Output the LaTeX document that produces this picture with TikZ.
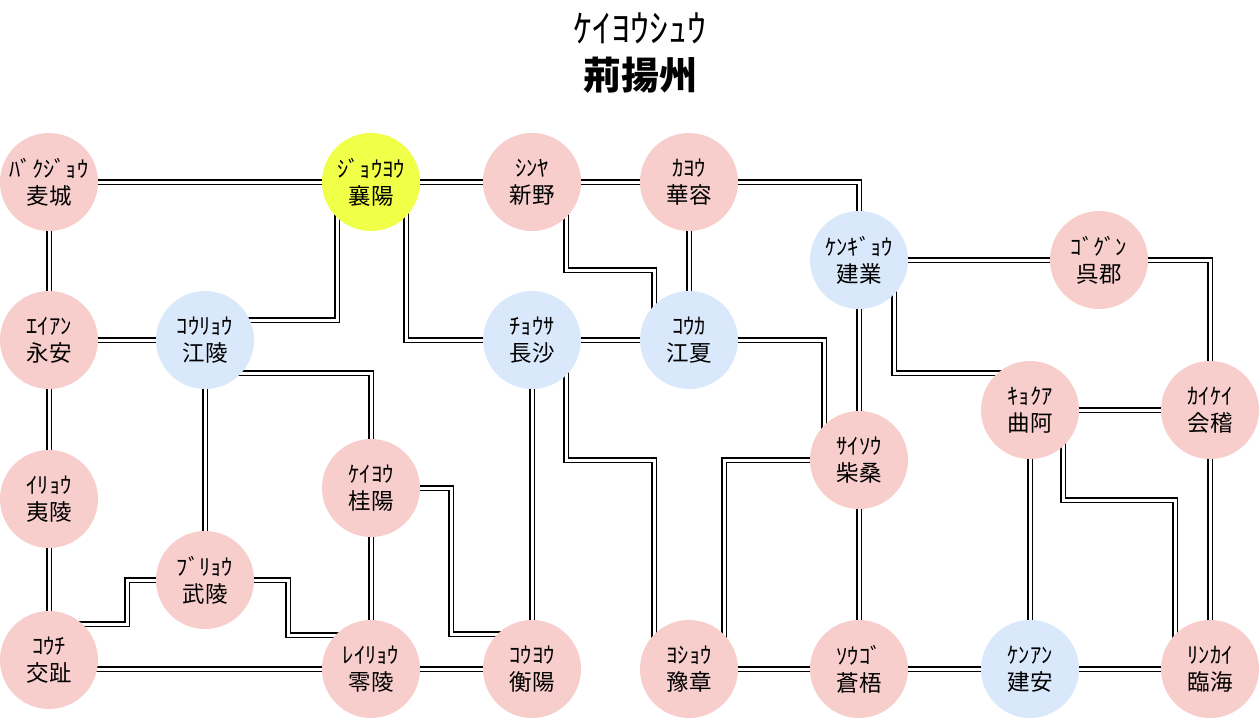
\documentclass[tikz,border=0pt]{standalone}
\usepackage{fontspec}
\setmainfont{Noto Sans CJK JP}
\usetikzlibrary{backgrounds}
\definecolor{pinkc}{HTML}{F8CECC}
\definecolor{bluec}{HTML}{DAE8FC}
\definecolor{yellowc}{HTML}{F0FF48}
\tikzset{
  city/.style={circle, minimum size=98pt, inner sep=0pt, draw=none, align=center,
    font=\fontsize{22.5}{27}\selectfont},
  pinkcity/.style={city, fill=pinkc},
  bluecity/.style={city, fill=bluec},
  yellowcity/.style={city, fill=yellowc},
  road/.style={draw=black, line width=1.1pt, double=white, double distance=3pt, line join=miter},
  titletext/.style={font=\fontsize{38}{42}\selectfont}
}
\begin{document}
\begin{tikzpicture}[x=1pt,y=-1pt]
\useasboundingbox (0,0) rectangle (1260,720);
\node[titletext] (t1) at (640,28) {ｹｲﾖｳｼｭｳ};
\node[titletext, font=\fontsize{38}{42}\selectfont\bfseries] (t2) at (640,75) {荊揚州};

\node[pinkcity] (maicheng) at (49,182) {ﾊﾞｸｼﾞｮｳ\\麦城};
\node[yellowcity] (xiangyang) at (371,182) {ｼﾞｮｳﾖｳ\\襄陽};
\node[pinkcity] (xinye) at (532,182) {ｼﾝﾔ\\新野};
\node[pinkcity] (huarong) at (689,182) {ｶﾖｳ\\華容};
\node[bluecity] (jianye) at (859,260) {ｹﾝｷﾞｮｳ\\建業};
\node[pinkcity] (wujun) at (1099,260) {ｺﾞｸﾞﾝ\\呉郡};
\node[pinkcity] (yongan) at (49,340) {ｴｲｱﾝ\\永安};
\node[bluecity] (jiangling) at (205,340) {ｺｳﾘｮｳ\\江陵};
\node[bluecity] (changsha) at (532,340) {ﾁｮｳｻ\\長沙};
\node[bluecity] (jiangxia) at (689,340) {ｺｳｶ\\江夏};
\node[pinkcity] (qua) at (1030,410) {ｷｮｸｱ\\曲阿};
\node[pinkcity] (kuaiji) at (1210,410) {ｶｲｹｲ\\会稽};
\node[pinkcity] (chaisang) at (859,460) {ｻｲｿｳ\\柴桑};
\node[pinkcity] (guiyang) at (371,488) {ｹｲﾖｳ\\桂陽};
\node[pinkcity] (yiling) at (49,499) {ｲﾘｮｳ\\夷陵};
\node[pinkcity] (wuling) at (205,580) {ﾌﾞﾘｮｳ\\武陵};
\node[pinkcity] (jiaozhi) at (49,660) {ｺｳﾁ\\交趾};
\node[pinkcity] (lingling) at (371,669) {ﾚｲﾘｮｳ\\零陵};
\node[pinkcity] (hengyang) at (532,669) {ｺｳﾖｳ\\衡陽};
\node[pinkcity] (yuzhang) at (689,669) {ﾖｼｮｳ\\豫章};
\node[pinkcity] (cangwu) at (859,669) {ｿｳｺﾞ\\蒼梧};
\node[bluecity] (jianan) at (1030,669) {ｹﾝｱﾝ\\建安};
\node[pinkcity] (linhai) at (1210,669) {ﾘﾝｶｲ\\臨海};

\begin{pgfonlayer}{background}
\fill[white] (0,0) rectangle (1260,720);
\draw[road] (maicheng.center) -- (xiangyang.center);
\draw[road] (xiangyang.center) -- (xinye.center);
\draw[road] (xinye.center) -- (huarong.center);
\draw[road] (huarong.center) -| (jianye.center);
\draw[road] (maicheng.center) -- (yongan.center);
\draw[road] (yongan.center) -- (jiangling.center);
\draw[road] ([yshift=20pt]jiangling.center) -| ([xshift=-34pt]xiangyang.center);
\draw[road] ([xshift=35pt]xiangyang.center) |- (changsha.center);
\draw[road] ([xshift=34pt]xinye.center) -- ++(0,88) -| ([xshift=-35pt]jiangxia.center);
\draw[road] (huarong.center) -- (jiangxia.center);
\draw[road] (changsha.center) -- (jiangxia.center);
\draw[road] (jiangxia.center) -| ([xshift=-35pt]chaisang.center);
\draw[road] (jianye.center) -- (chaisang.center);
\draw[road] (jianye.center) -- (wujun.center);
\draw[road] (wujun.center) -| (kuaiji.center);
\draw[road] ([xshift=35pt]jianye.center) |- ([yshift=37pt]qua.center);
\draw[road] (qua.center) -- (kuaiji.center);
\draw[road] (qua.center) -- (jianan.center);
\draw[road] ([xshift=33pt]qua.center) -- ++(0,90) -| ([xshift=-35pt]linhai.center);
\draw[road] (kuaiji.center) -- (linhai.center);
\draw[road] (changsha.center) -- (hengyang.center);
\draw[road] ([xshift=34pt]changsha.center) -- ++(0,120) -| ([xshift=-35pt]yuzhang.center);
\draw[road] (chaisang.center) -| ([xshift=35pt]yuzhang.center);
\draw[road] (chaisang.center) -- (cangwu.center);
\draw[road] ([yshift=-33pt]jiangling.center) -| (guiyang.center);
\draw[road] (jiangling.center) -- (wuling.center);
\draw[road] (guiyang.center) -- (lingling.center);
\draw[road] (guiyang.center) -- ++(80,0) |- ([yshift=35pt]hengyang.center);
\draw[road] (yongan.center) -- (yiling.center);
\draw[road] (yiling.center) -- (jiaozhi.center);
\draw[road] ([yshift=36pt]jiaozhi.center) -- ++(78,0) |- (wuling.center);
\draw[road] (wuling.center) -- ++(83,0) |- ([yshift=34pt]lingling.center);
\draw[road] (jiaozhi.center |- lingling.center) -- (lingling.center);
\draw[road] (lingling.center) -- (hengyang.center);
\draw[road] (yuzhang.center) -- (cangwu.center);
\draw[road] (cangwu.center) -- (jianan.center);
\draw[road] (jianan.center) -- (linhai.center);
\end{pgfonlayer}
\end{tikzpicture}
\end{document}
